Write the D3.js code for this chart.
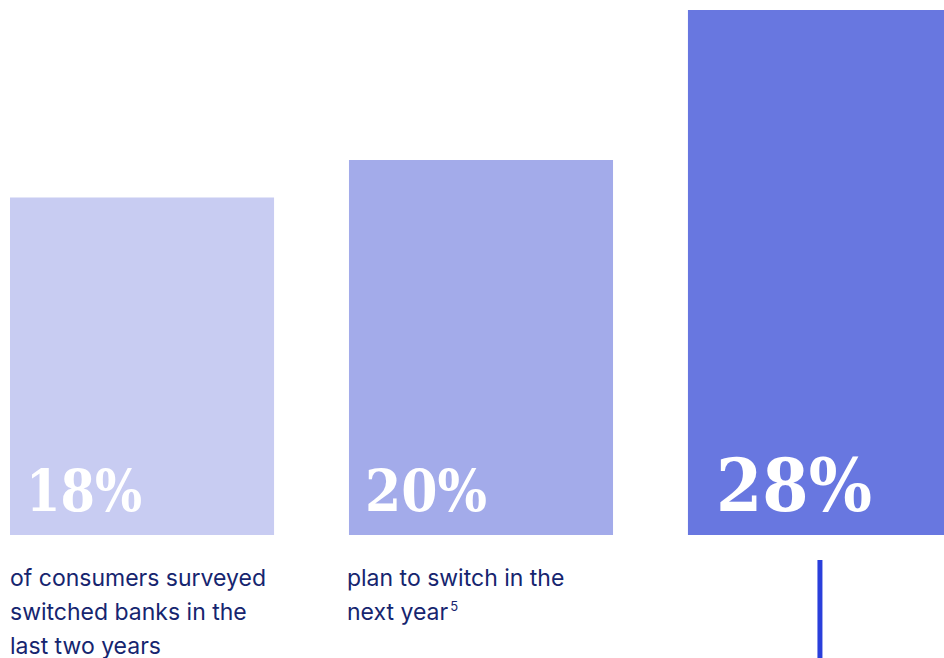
<!DOCTYPE html>
<html>
<head>
<meta charset="utf-8">
<script src="https://cdn.jsdelivr.net/npm/d3@7"></script>
<style>
  html, body { margin: 0; padding: 0; background: #fff; overflow: hidden; }
</style>
</head>
<body>
<div id="chart"></div>
<script>
// chart values
const categories = ["switched", "plan", "third"];
const values = [18, 20, 28];
const valueLabels = ["18%", "20%", "28%"];
const captions = [
    ["of consumers surveyed", "switched banks in the", "last two years"],
    ["plan to switch in the", "next year"],
    []
];
const footnotes = ["", "5", ""];
const barColors = ["#c8ccf2", "#a3abea", "#6877e0"];

const width = 944;
const height = 658;

const svg = d3.select("#chart").append("svg")
    .attr("width", width)
    .attr("height", height);

const x = d3.scaleBand()
    .domain(categories)
    .range([10, 952])
    .paddingInner(0.221)
    .paddingOuter(0);

const y = d3.scaleLinear()
    .domain([0, 28])
    .range([535, 10]);

// bars
svg.selectAll(".bar")
    .data(values)
    .enter().append("rect")
    .attr("class", "bar")
    .attr("x", (d, i) => x(categories[i]))
    .attr("y", d => y(d))
    .attr("width", x.bandwidth())
    .attr("height", d => y(0) - y(d))
    .attr("fill", (d, i) => barColors[i]);

// big percentage labels
const big = i => i === 2;
svg.selectAll(".value")
    .data(values)
    .enter().append("text")
    .attr("class", "value")
    .attr("x", (d, i) => x(categories[i]) + (big(i) ? 28 : 16))
    .attr("y", 511)
    .attr("fill", "#fff")
    .attr("font-family", "'DejaVu Serif', serif")
    .attr("font-weight", "bold")
    .attr("font-size", (d, i) => big(i) ? 72 : 58)
    .attr("textLength", (d, i) => big(i) ? 156 : (i === 0 ? 116 : 122))
    .attr("lengthAdjust", "spacingAndGlyphs")
    .text((d, i) => valueLabels[i]);

// captions under bars
const capG = svg.selectAll(".caption")
    .data(captions)
    .enter().append("text")
    .attr("class", "caption")
    .attr("font-family", "Inter, 'Noto Sans', sans-serif")
    .attr("font-size", 23)
    .attr("fill", "#16256f");

capG.each(function(lines, i) {
    const t = d3.select(this);
    lines.forEach((line, j) => {
        t.append("tspan")
            .attr("x", x(categories[i]) - (i === 1 ? 2 : 0))
            .attr("y", 586 + j * 34)
            .text(line);
    });
    if (footnotes[i]) {
        t.append("tspan")
            .attr("dx", 2)
            .attr("dy", -9)
            .attr("font-size", 13)
            .text(footnotes[i]);
    }
});

// vertical accent line under third bar
svg.append("line")
    .attr("x1", x(categories[2]) + 132)
    .attr("x2", x(categories[2]) + 132)
    .attr("y1", 560)
    .attr("y2", height)
    .attr("stroke", "#2a3fdb")
    .attr("stroke-width", 5);
</script>
</body>
</html>
